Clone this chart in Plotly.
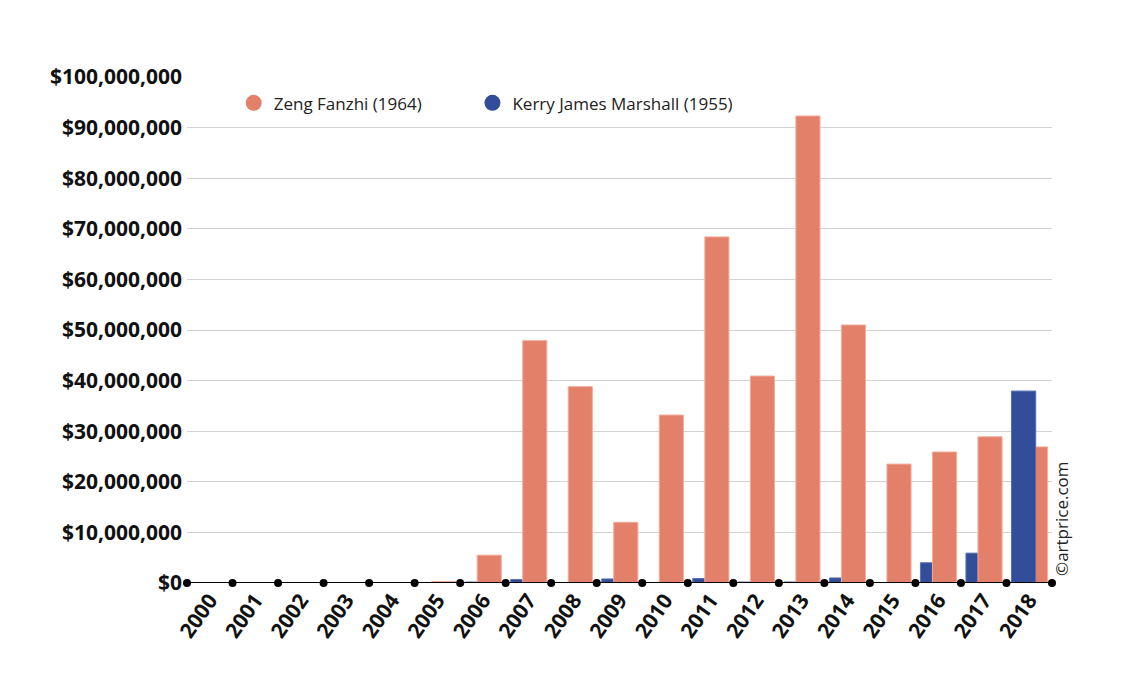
import plotly.graph_objects as go

years = [str(y) for y in range(2000, 2019)]
zeng = [0, 0, 0, 0, 0, 0.3, 5.5, 47.9, 38.8, 12.0, 33.2, 68.4, 40.9, 92.3, 51.0, 23.5, 25.9, 28.9, 26.9]
kerry = [0, 0, 0, 0, 0, 0, 0.2, 0.7, 0.1, 0.8, 0, 0.9, 0.2, 0.2, 1.0, 0, 4.0, 5.9, 37.9]
zeng = [v * 1e6 for v in zeng]
kerry = [v * 1e6 for v in kerry]
yticks = [i * 10_000_000 for i in range(11)]
ytext = ["$" + format(v, ",") for v in yticks]

ORANGE = "#E3806A"
BLUE = "#324D9A"
FONT = "Open Sans"

x = list(range(len(years)))
kerry_front = [k if k > z else None for k, z in zip(kerry, zeng)]

fig = go.Figure()
fig.add_bar(x=x, y=kerry, width=0.53, offset=-0.39, marker=dict(color=BLUE, line=dict(color="#5B70B2", width=1)),
            showlegend=False, hoverinfo="skip")
fig.add_bar(x=x, y=zeng, width=0.53, offset=-0.126, marker=dict(color=ORANGE, line=dict(color="#F2AD9D", width=1)),
            showlegend=False, hoverinfo="skip")
fig.add_bar(x=x, y=kerry_front, width=0.53, offset=-0.39, marker=dict(color=BLUE, line=dict(color="#5B70B2", width=1)),
            showlegend=False, hoverinfo="skip")

# axis baseline with dots at category boundaries
bounds = [i - 0.5 for i in range(len(years) + 1)]
fig.add_scatter(x=bounds, y=[0] * len(bounds), mode="lines+markers",
                line=dict(color="black", width=2), marker=dict(color="black", size=8),
                cliponaxis=False, showlegend=False, hoverinfo="skip")

# legend entries
fig.add_scatter(x=[None], y=[None], mode="markers", name="Zeng Fanzhi (1964)",
                marker=dict(color=ORANGE, size=16, symbol="circle"), legend="legend")
fig.add_scatter(x=[None], y=[None], mode="markers", name="Kerry James Marshall (1955)",
                marker=dict(color=BLUE, size=16, symbol="circle"), legend="legend2")

fig.update_layout(
    width=1140, height=676,
    margin=dict(l=179, r=96, t=69, b=101, autoexpand=False),
    paper_bgcolor="white", plot_bgcolor="white",
    barmode="overlay",
    font=dict(family=FONT, color="#111111"),
    legend=dict(x=0.054, y=0.948, xanchor="left", yanchor="middle", orientation="h",
                font=dict(size=17, family=FONT, color="#222222"), bgcolor="rgba(0,0,0,0)"),
    legend2=dict(x=0.330, y=0.948, xanchor="left", yanchor="middle", orientation="h",
                 font=dict(size=17, family=FONT, color="#222222"), bgcolor="rgba(0,0,0,0)"),
    xaxis=dict(type="linear", range=[-0.5, len(years) - 0.5], tickmode="array", tickvals=x, ticktext=years,
               tickangle=-55, tickfont=dict(size=21, family=FONT, weight="bold", color="#111111"),
               showgrid=False, zeroline=False, showline=False, ticks="", automargin=False),
    yaxis=dict(range=[0, 100_000_000], tickmode="array", tickvals=yticks, ticktext=ytext,
               tickfont=dict(size=21, family=FONT, weight="bold", color="#111111"),
               showgrid=True, gridcolor="#D3D3D3", gridwidth=1, zeroline=False, showline=False,
               ticks="", ticklabelstandoff=4, automargin=False),
)

fig.add_annotation(text="©artprice.com", xref="paper", yref="paper", x=1.0, y=0.0,
                   xanchor="left", yanchor="bottom", xshift=-4, yshift=5, textangle=-90,
                   showarrow=False, font=dict(size=17, family=FONT, color="#222222"))

fig.write_html("out.html")
